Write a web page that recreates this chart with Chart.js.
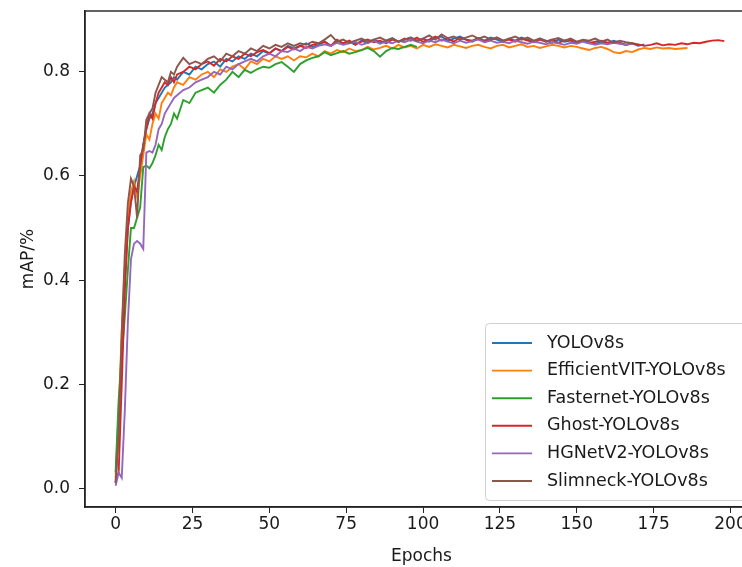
<!DOCTYPE html>
<html>
<head>
<meta charset="utf-8">
<script src="https://cdn.jsdelivr.net/npm/chart.js@4.4.1/dist/chart.umd.min.js"></script>
<style>
html,body{margin:0;padding:0;background:#fff;overflow:hidden;}
#wrap{width:762px;height:567px;}
</style>
</head>
<body>
<div id="wrap"><canvas id="mapGraph" width="762" height="567"></canvas></div>
<script>
var epochs = [0,1,2,3,4,5,6,7,8,9,10,11,12,13,14,15,16,17,18,19,20,
	22,24,26,28,30,32,34,36,38,40,42,44,46,48,50,52,54,56,58,60,62,64,66,68,70,
	72,74,76,78,80,82,84,86,88,90,92,94,96,98,100,102,104,106,108,110,112,114,116,118,120,
	122,124,126,128,130,132,134,136,138,140,142,144,146,148,150,152,154,156,158,160,
	162,164,166,168,170,172,174,176,178,180,182,184,186,188,190,192,194,196,198];

var seriesNames = ['YOLOv8s','EfficientVIT-YOLOv8s','Fasternet-YOLOv8s','Ghost-YOLOv8s','HGNetV2-YOLOv8s','Slimneck-YOLOv8s'];
var seriesColors = ['#1f77b4','#ff7f0e','#2ca02c','#d62728','#9467bd','#8c564b'];

var yolo = [0.01,0.12,0.28,0.40,0.50,0.55,0.58,0.60,0.62,0.66,0.69,0.71,0.72,0.74,0.75,0.76,0.77,0.775,0.78,0.79,0.785,
	0.80,0.795,0.81,0.805,0.815,0.82,0.81,
	0.825,0.82,0.83,0.825, 0.835,0.83,0.84,0.835, 0.845,0.84,0.85,0.845, 0.85,0.855,0.848,0.852,
	0.858,0.85,0.86,0.855, 0.858,0.852,0.86,0.855, 0.862,0.856,0.86,0.865, 0.858,0.862,0.866,0.86,
	0.864,0.858,0.866,0.868, 0.86,0.864,0.868,0.862, 0.858,0.865,0.86,0.866, 0.862,0.858,0.864,0.86,
	0.866,0.862,0.858,0.864, 0.86,0.856,0.862,0.858, 0.86,0.855,0.86,0.857, 0.854,0.858,0.855,0.86,
	0.856,0.852,0.855,0.85, 0.853];

var efficient = [0.02,0.15,0.30,0.42,0.52,0.57,0.59,0.56,0.60,0.64,0.68,0.67,0.70,0.72,0.71,0.74,0.75,0.76,0.755,0.77,0.78,
	0.775,0.79,0.785,0.795,0.80,0.79,0.805,
	0.80,0.81,0.815,0.805, 0.82,0.815,0.825,0.82, 0.83,0.825,0.83,0.822, 0.83,0.828,0.835,0.83,
	0.84,0.835,0.842,0.838, 0.845,0.84,0.842,0.848, 0.843,0.846,0.85,0.845, 0.852,0.847,0.85,0.845,
	0.852,0.848,0.853,0.85, 0.847,0.852,0.849,0.846, 0.85,0.852,0.848,0.845, 0.85,0.852,0.847,0.85,
	0.853,0.848,0.85,0.846, 0.849,0.852,0.85,0.847, 0.85,0.848,0.845,0.842, 0.846,0.848,0.844,0.838,
	0.836,0.84,0.838,0.843, 0.846,0.844,0.847,0.845, 0.846,0.844,0.845,0.846];

var fasternet = [0.03,0.17,0.25,0.33,0.42,0.50,0.50,0.52,0.54,0.617,0.62,0.615,0.625,0.64,0.66,0.65,0.675,0.69,0.70,0.72,0.71,
	0.746,0.74,0.76,0.765,0.77,0.76,0.775,
	0.785,0.80,0.79,0.804, 0.798,0.805,0.81,0.808, 0.815,0.819,0.81,0.80, 0.815,0.822,0.827,0.83,
	0.838,0.832,0.836,0.84, 0.835,0.838,0.842,0.846, 0.84,0.829,0.84,0.846, 0.844,0.848,0.852,0.848];

var ghost = [0.02,0.03,0.20,0.38,0.50,0.55,0.58,0.57,0.62,0.66,0.69,0.72,0.71,0.74,0.76,0.77,0.78,0.775,0.79,0.78,0.795,
	0.80,0.81,0.805,0.815,0.82,0.812,0.825,
	0.82,0.83,0.825,0.835, 0.83,0.838,0.842,0.836, 0.845,0.84,0.848,0.843, 0.85,0.846,0.852,0.855,
	0.858,0.85,0.862,0.855, 0.86,0.853,0.858,0.862, 0.857,0.86,0.855,0.862, 0.858,0.864,0.86,0.866,
	0.858,0.862,0.868,0.86, 0.864,0.858,0.866,0.862, 0.86,0.865,0.858,0.862, 0.866,0.86,0.862,0.858,
	0.864,0.86,0.857,0.862, 0.858,0.862,0.856,0.86, 0.862,0.857,0.86,0.855, 0.858,0.86,0.856,0.858,
	0.855,0.852,0.855,0.853, 0.85,0.852,0.855,0.851, 0.853,0.852,0.855,0.853, 0.856,0.855,0.858,0.86,
	0.861,0.859];

var hgnet = [0.005,0.03,0.02,0.15,0.32,0.44,0.47,0.475,0.47,0.46,0.645,0.648,0.645,0.66,0.69,0.70,0.72,0.73,0.74,0.75,0.755,
	0.765,0.77,0.78,0.785,0.79,0.80,0.795,
	0.81,0.805,0.815,0.82, 0.825,0.82,0.83,0.835, 0.83,0.84,0.838,0.845, 0.84,0.848,0.845,0.85,
	0.853,0.85,0.856,0.852, 0.855,0.858,0.852,0.856, 0.86,0.854,0.858,0.855, 0.86,0.857,0.862,0.858,
	0.855,0.86,0.857,0.862, 0.858,0.855,0.86,0.856, 0.859,0.862,0.857,0.86, 0.856,0.858,0.855,0.86,
	0.857,0.854,0.858,0.856, 0.853,0.857,0.855,0.852, 0.856,0.854,0.858,0.855, 0.852,0.855,0.853,0.856,
	0.854,0.852,0.855];

var slimneck = [0.01,0.10,0.30,0.45,0.548,0.595,0.58,0.52,0.64,0.65,0.708,0.72,0.73,0.76,0.775,0.79,0.785,0.78,0.80,0.795,0.81,
	0.827,0.815,0.82,0.815,0.825,0.83,0.82,
	0.835,0.83,0.84,0.835, 0.845,0.84,0.85,0.845, 0.852,0.848,0.855,0.85, 0.855,0.852,0.858,0.855,
	0.862,0.871,0.858,0.862, 0.856,0.86,0.864,0.858, 0.862,0.866,0.86,0.864, 0.858,0.862,0.866,0.86,
	0.864,0.87,0.862,0.872, 0.865,0.868,0.862,0.866, 0.87,0.864,0.868,0.862, 0.866,0.86,0.864,0.868,
	0.862,0.866,0.86,0.864, 0.858,0.862,0.865,0.86, 0.864,0.858,0.862,0.86, 0.864,0.858,0.862,0.856,
	0.86,0.857,0.855];

var xTicks = [0,25,50,75,100,125,150,175,200];
var yTicks = [0.0,0.2,0.4,0.6,0.8];

var allSeries = [yolo,efficient,fasternet,ghost,hgnet,slimneck];

function toPoints(vals)
{
	return vals.map(function(v,i){ return {x: epochs[i], y: v}; });
}

var datasets = allSeries.map(function(vals,i){
	return {
		label: seriesNames[i],
		data: toPoints(vals),
		borderColor: seriesColors[i],
		backgroundColor: seriesColors[i],
		borderWidth: 1.9,
		pointRadius: 0,
		tension: 0,
		fill: false,
		order: allSeries.length - i
	};
});

// matplotlib style frame + legend in lower right
var framePlugin = {
	id: 'frame',
	afterDatasetsDraw: function(chart) {
		var a = chart.chartArea, ctx = chart.ctx;
		ctx.save();
		ctx.strokeStyle = '#222';
		ctx.lineWidth = 1.4;
		ctx.strokeRect(a.left, a.top, a.right - a.left, a.bottom - a.top);
		ctx.restore();
	},
	afterDraw: function(chart) {
		var ctx = chart.ctx;
		ctx.save();
		ctx.beginPath();
		ctx.roundRect(485.5, 323.5, 266, 177, 4);
		ctx.fillStyle = 'rgba(255,255,255,0.85)';
		ctx.fill();
		ctx.strokeStyle = '#d0d0d0';
		ctx.lineWidth = 1;
		ctx.stroke();
		ctx.font = '17.5px "DejaVu Sans"';
		ctx.textBaseline = 'middle';
		chart.data.datasets.forEach(function(ds,i){
			var y = 343 + i*27.6;
			ctx.strokeStyle = ds.borderColor;
			ctx.lineWidth = 1.9;
			ctx.beginPath();
			ctx.moveTo(492, y);
			ctx.lineTo(532, y);
			ctx.stroke();
			ctx.fillStyle = '#1a1a1a';
			ctx.fillText(ds.label, 547, y);
		});
		ctx.restore();
	}
};

var ctx = document.getElementById('mapGraph');
var myChart = new Chart(ctx, {
	type: 'line',
	data: { datasets: datasets },
	plugins: [framePlugin],
	options: {
		responsive: false,
		animation: false,
		devicePixelRatio: 1,
		layout: { padding: { top: 11, right: 4, left: 0, bottom: 0 } },
		plugins: { legend: { display: false }, tooltip: { enabled: false } },
		scales: {
			x: {
				type: 'linear',
				min: -9.95,
				max: 208.95,
				afterBuildTicks: function(scale){ scale.ticks = xTicks.map(function(v){ return {value: v}; }); },
				afterFit: function(scale){ scale.height = 60; scale.paddingLeft = 0; scale.paddingRight = 0; },
				ticks: { color: '#1a1a1a', font: { family: 'DejaVu Sans', size: 17 }, padding: 1, maxRotation: 0 },
				grid: { drawOnChartArea: false, color: '#222', tickLength: 6, tickWidth: 1 },
				border: { color: '#222', width: 1.4 },
				title: { display: true, text: 'Epochs', color: '#1a1a1a', font: { family: 'DejaVu Sans', size: 17 }, padding: { top: 2, bottom: 0 } }
			},
			y: {
				type: 'linear',
				min: -0.036,
				max: 0.917,
				afterBuildTicks: function(scale){ scale.ticks = yTicks.map(function(v){ return {value: v}; }); },
				afterFit: function(scale){ scale.width = 85; scale.paddingTop = 0; scale.paddingBottom = 0; },
				ticks: { color: '#1a1a1a', font: { family: 'DejaVu Sans', size: 17 }, padding: 9,
					callback: function(v){ return v.toFixed(1); } },
				grid: { drawOnChartArea: false, color: '#222', tickLength: 6, tickWidth: 1 },
				border: { color: '#222', width: 1.4 },
				title: { display: true, text: 'mAP/%', color: '#1a1a1a', font: { family: 'DejaVu Sans', size: 17 }, padding: { top: 18, bottom: 0 } }
			}
		}
	}
});
</script>
</body>
</html>
